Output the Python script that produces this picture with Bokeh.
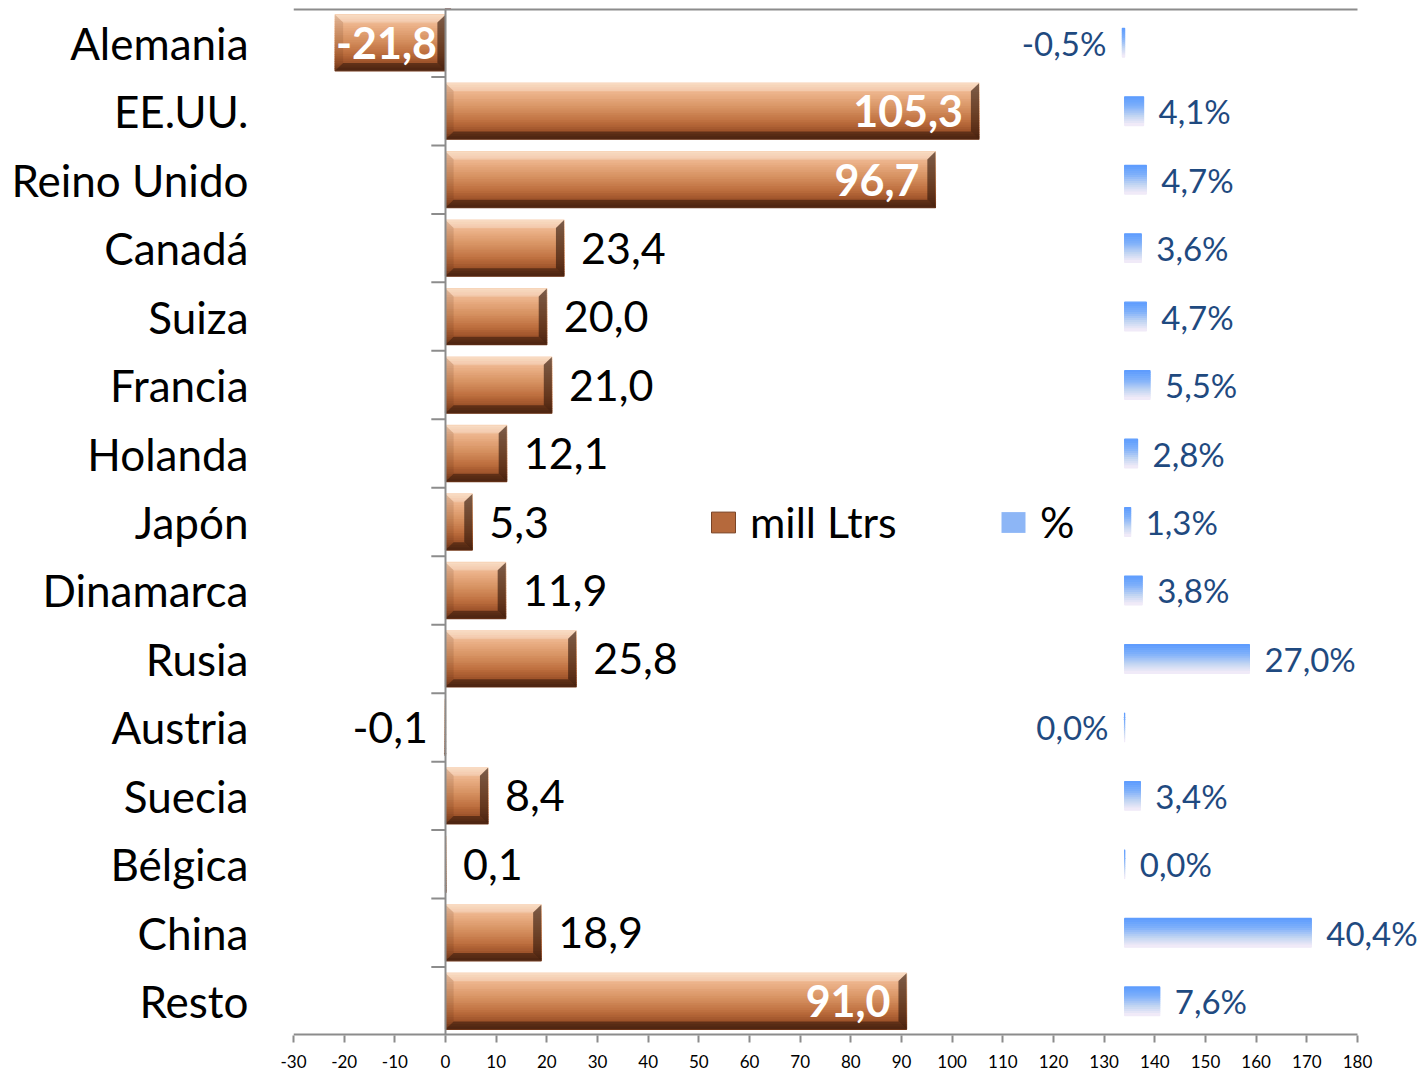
import numpy as np
from bokeh.plotting import figure
from bokeh.models import (Range1d, FixedTicker, Span, ColumnDataSource, Legend,
                          LegendItem)
from bokeh.core.properties import value
from bokeh.embed import file_html
from bokeh.resources import INLINE

# ---------------- data ----------------
categories = ["Alemania", "EE.UU.", "Reino Unido", "Canadá", "Suiza", "Francia",
              "Holanda", "Japón", "Dinamarca", "Rusia", "Austria", "Suecia",
              "Bélgica", "China", "Resto"]
mill_ltrs = [-21.8, 105.3, 96.7, 23.4, 20.0, 21.0, 12.1, 5.3, 11.9, 25.8,
             -0.1, 8.4, 0.1, 18.9, 91.0]
pct = [-0.5, 4.1, 4.7, 3.6, 4.7, 5.5, 2.8, 1.3, 3.8, 27.0,
       -0.02, 3.4, 0.02, 40.4, 7.6]
x_ticks = list(range(-30, 181, 10))

FONT = "Lato"
GRAY = "#8C8C8C"
X0, X1 = x_ticks[0], x_ticks[-1]

# the frame runs to the right edge so the outer percentage labels are not cut;
# the axis lines themselves stop at 180
p = figure(width=1422, height=1071, output_backend="svg", toolbar_location=None,
           x_range=Range1d(-30, 192.83), y_range=Range1d(14.5, -0.5),
           min_border_left=293, min_border_right=0, min_border_top=8,
           min_border_bottom=36)
p.outline_line_color = None
p.grid.visible = False
p.background_fill_color = "white"

# secondary scale for the percentage bars (0 % sits at 134 of the main axis)
p.extra_x_ranges = {"pct": Range1d(-179.9, 64.47)}


def hex2rgb(h):
    h = h.lstrip("#")
    return np.array([int(h[i:i + 2], 16) for i in (0, 2, 4)], dtype=float)


def ramp(stops, n):
    pos = np.array([s[0] for s in stops])
    cols = np.array([hex2rgb(s[1]) for s in stops])
    out = []
    for k in range(n):
        t = (k + 0.5) / n
        c = [np.interp(t, pos, cols[:, j]) for j in range(3)]
        out.append("#%02x%02x%02x" % tuple(int(round(v)) for v in c))
    return out


# ---------------- brown bars (gradient strips) ----------------
BH = 0.82
NS = 24
brown = ramp([(0.0, "#F8D4B6"), (0.18, "#EDB48C"), (0.45, "#D79262"),
              (0.7, "#BD6E3E"), (0.88, "#9A5028"), (1.0, "#6E3719")], NS)
sy, sl, sr, sc = [], [], [], []
for i, v in enumerate(mill_ltrs):
    for k in range(NS):
        sy.append(i - BH / 2 + (k + 0.5) * BH / NS)
        sl.append(min(0, v))
        sr.append(max(0, v))
        sc.append(brown[k])
p.hbar(y="y", left="l", right="r", height=BH / NS, fill_color="c",
       line_color="c", line_width=1.2,
       source=ColumnDataSource(dict(y=sy, l=sl, r=sr, c=sc)))

# bevel overlays
bx0, by0 = 1.6, 0.115
xs, ys, fc, fa = [], [], [], []
for i, v in enumerate(mill_ltrs):
    L, R = min(0, v), max(0, v)
    bx = min(bx0, (R - L) / 2)
    t, b = i - BH / 2, i + BH / 2
    xs.append([L, R, R - bx, L + bx]); ys.append([t, t, t + by0, t + by0])
    fc.append("#FFFFFF"); fa.append(0.22)
    xs.append([L, R, R - bx, L + bx]); ys.append([b, b, b - by0, b - by0])
    fc.append("#2A1208"); fa.append(0.5)
    xs.append([L, L + bx, L + bx, L]); ys.append([t, t + by0, b - by0, b])
    fc.append("#3A1A0A"); fa.append(0.12)
    xs.append([R, R - bx, R - bx, R]); ys.append([t, t + by0, b - by0, b])
    fc.append("#2A1208"); fa.append(0.6)
p.patches(xs="xs", ys="ys", fill_color="c", fill_alpha="a", line_color=None,
          source=ColumnDataSource(dict(xs=xs, ys=ys, c=fc, a=fa)))

# ---------------- blue percentage bars ----------------
PH = 0.42
NP = 14
blue = ramp([(0.0, "#5B9BFF"), (0.35, "#7FB0FA"), (0.7, "#C4D6F2"),
             (1.0, "#F6EDF9")], NP)
py, pl, pr, pc = [], [], [], []
for i, v in enumerate(pct):
    for k in range(NP):
        py.append(i - PH / 2 + (k + 0.5) * PH / NP)
        pl.append(min(0, v))
        pr.append(max(0, v))
        pc.append(blue[k])
p.hbar(y="y", left="l", right="r", height=PH / NP, fill_color="c",
       line_color="c", line_width=1.2, x_range_name="pct",
       source=ColumnDataSource(dict(y=py, l=pl, r=pr, c=pc)))

# ---------------- axis lines, zero line with category ticks ----------------
p.segment(x0=[X0, X0], x1=[X1, X1], y0=[-0.5, 14.5], y1=[-0.5, 14.5],
          line_color=GRAY, line_width=4)
p.add_layout(Span(location=0, dimension="height", line_color=GRAY, line_width=2))
bnd = [i - 0.5 for i in range(1, len(categories))]
p.segment(x0=[-2.8] * len(bnd), x1=[0] * len(bnd), y0=bnd, y1=bnd,
          line_color=GRAY, line_width=2)


def fmt(v):
    return f"{round(v, 1) + 0.0:.1f}".replace(".", ",")


# ---------------- value labels (mill Ltrs) ----------------
in_pos = dict(x=[], y=[], t=[])
in_neg = dict(x=[], y=[], t=[])
out_pos = dict(x=[], y=[], t=[])
out_neg = dict(x=[], y=[], t=[])
for i, v in enumerate(mill_ltrs):
    if v > 50:
        d = in_pos
    elif v < -10:
        d = in_neg
    elif v >= 0:
        d = out_pos
    else:
        d = out_neg
    d["x"].append(v); d["y"].append(i); d["t"].append(fmt(v))

common = dict(text_font=value(FONT), text_font_size="43px", text_baseline="middle")
p.text(x="x", y="y", text="t", source=ColumnDataSource(in_pos), text_align="right",
       x_offset=-16, text_color="white", text_font_style="bold", **common)
p.text(x="x", y="y", text="t", source=ColumnDataSource(in_neg), text_align="left",
       x_offset=1, text_color="white", text_font_style="bold", **common)
p.text(x="x", y="y", text="t", source=ColumnDataSource(out_pos), text_align="left",
       x_offset=17, text_color="black", **common)
p.text(x="x", y="y", text="t", source=ColumnDataSource(out_neg), text_align="right",
       x_offset=-17, text_color="black", **common)

# ---------------- percentage labels ----------------
pp = dict(x=[], y=[], t=[])
pn = dict(x=[], y=[], t=[])
for i, v in enumerate(pct):
    d = pp if v >= 0 else pn
    d["x"].append(v); d["y"].append(i); d["t"].append(fmt(v) + "%")
pcommon = dict(text_font=value(FONT), text_font_size="33px", text_baseline="middle",
               text_color="#1F4A80", x_range_name="pct")
p.text(x="x", y="y", text="t", source=ColumnDataSource(pp), text_align="left",
       x_offset=15, **pcommon)
p.text(x="x", y="y", text="t", source=ColumnDataSource(pn), text_align="right",
       x_offset=-16, **pcommon)

# ---------------- axes ----------------
p.xaxis.ticker = FixedTicker(ticks=x_ticks)
p.xaxis.major_label_overrides = {t: str(t) for t in x_ticks}
p.xaxis.axis_line_color = None
p.xaxis.major_tick_line_color = GRAY
p.xaxis.major_tick_line_width = 2
p.xaxis.major_tick_out = 7
p.xaxis.major_tick_in = 0
p.xaxis.minor_tick_line_color = None
p.xaxis.major_label_text_font = FONT
p.xaxis.major_label_text_font_size = "17px"
p.xaxis.major_label_text_color = "black"
p.xaxis.major_label_standoff = 12

p.yaxis.ticker = FixedTicker(ticks=list(range(len(categories))))
p.yaxis.major_label_overrides = {i: c for i, c in enumerate(categories)}
p.yaxis.axis_line_color = None
p.yaxis.major_tick_line_color = None
p.yaxis.minor_tick_line_color = None
p.yaxis.major_label_standoff = 39
p.yaxis.major_label_text_font = FONT
p.yaxis.major_label_text_font_size = "44px"
p.yaxis.major_label_text_color = "black"

# ---------------- legend ----------------
rb = p.hbar(y=[-20], left=[0], right=[1], height=0.5, fill_color="#B5693C",
            line_color="#7A4426", line_width=1)
rp = p.hbar(y=[-20], left=[0], right=[1], height=0.5, fill_color="#8DB6F6",
            line_color=None)
legend = Legend(items=[LegendItem(label="mill Ltrs", renderers=[rb]),
                       LegendItem(label="%", renderers=[rp])],
                orientation="horizontal", location=(415, 488),
                glyph_width=30, glyph_height=26, label_standoff=12,
                label_width=248, spacing=0, padding=0, margin=0,
                border_line_color=None, background_fill_alpha=0,
                label_text_font=FONT, label_text_font_size="43px",
                label_text_color="black")
p.add_layout(legend)

open("out.html", "w").write(file_html(p, INLINE))
